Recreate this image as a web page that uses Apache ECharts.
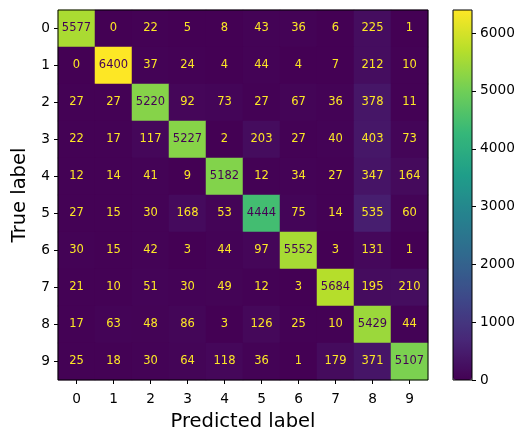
<!DOCTYPE html>
<html>
<head>
<meta charset="utf-8">
<script src="https://cdn.jsdelivr.net/npm/echarts@6/dist/echarts.min.js"></script>
<style>
  html, body { margin: 0; padding: 0; background: #fff; }
  #chart { width: 527px; height: 437px; }
</style>
</head>
<body>
<div id="chart"></div>
<script>
// confusion matrix: rows = true label, cols = predicted label
var labels = ["0", "1", "2", "3", "4", "5", "6", "7", "8", "9"];
var matrix = [
  [5577, 0, 22, 5, 8, 43, 36, 6, 225, 1],
  [0, 6400, 37, 24, 4, 44, 4, 7, 212, 10],
  [27, 27, 5220, 92, 73, 27, 67, 36, 378, 11],
  [22, 17, 117, 5227, 2, 203, 27, 40, 403, 73],
  [12, 14, 41, 9, 5182, 12, 34, 27, 347, 164],
  [27, 15, 30, 168, 53, 4444, 75, 14, 535, 60],
  [30, 15, 42, 3, 44, 97, 5552, 3, 131, 1],
  [21, 10, 51, 30, 49, 12, 3, 5684, 195, 210],
  [17, 63, 48, 86, 3, 126, 25, 10, 5429, 44],
  [25, 18, 30, 64, 118, 36, 1, 179, 371, 5107]
];
var colorbarTicks = [0, 1000, 2000, 3000, 4000, 5000, 6000];

var viridis = ["#440154", "#482878", "#3e4989", "#31688e", "#26828e",
  "#1f9e89", "#35b779", "#6ece58", "#b5de2b", "#fde725"];

var vmin = 0, vmax = 6400;
var thresh = (vmin + vmax) / 2;

var cells = [];
matrix.forEach(function (row, i) {
  row.forEach(function (v, j) {
    cells.push({
      value: [j, i, v],
      label: { color: v > thresh ? viridis[0] : viridis[viridis.length - 1] }
    });
  });
});

var font = "DejaVu Sans";
var chart = echarts.init(document.getElementById("chart"));

chart.setOption({
  animation: false,
  textStyle: { fontFamily: font },
  grid: [
    { left: 58, top: 10, width: 370, height: 370, show: true,
      borderColor: "#000", borderWidth: 1, backgroundColor: "transparent", z: 5 },
    { left: 453, top: 10, width: 19, height: 370, show: true,
      borderColor: "#000", borderWidth: 1, backgroundColor: "transparent", z: 5 }
  ],
  xAxis: [
    {
      type: "category", gridIndex: 0, data: labels,
      name: "Predicted label", nameLocation: "middle", nameGap: 32,
      nameTextStyle: { fontSize: 19.5, color: "#000", fontFamily: font },
      axisLine: { show: false },
      axisTick: { show: true, alignWithLabel: true, length: 4, lineStyle: { color: "#000" } },
      axisLabel: { fontSize: 13.7, color: "#000", margin: 12, fontFamily: font },
      splitLine: { show: false }
    },
    { type: "category", gridIndex: 1, data: [""], show: false }
  ],
  yAxis: [
    {
      type: "category", gridIndex: 0, data: labels, inverse: true,
      name: "True label", nameLocation: "middle", nameGap: 24,
      nameTextStyle: { fontSize: 19.5, color: "#000", fontFamily: font },
      axisLine: { show: false },
      axisTick: { show: true, alignWithLabel: true, length: 4, lineStyle: { color: "#000" } },
      axisLabel: { fontSize: 13.7, color: "#000", margin: 8, fontFamily: font },
      splitLine: { show: false }
    },
    {
      type: "value", gridIndex: 1, position: "right",
      min: vmin, max: vmax, interval: 1000,
      axisLine: { show: false },
      axisTick: { show: true, length: 4, lineStyle: { color: "#000" },
        customValues: colorbarTicks },
      axisLabel: { fontSize: 13.7, color: "#000", margin: 8,
        fontFamily: font, customValues: colorbarTicks,
        formatter: function (v) { return String(v); } },
      splitLine: { show: false }
    }
  ],
  visualMap: {
    type: "continuous",
    min: vmin, max: vmax,
    dimension: 2,
    seriesIndex: 0,
    calculable: false,
    hoverLink: false,
    show: true,
    orient: "vertical",
    left: 453, top: 10,
    itemWidth: 19, itemHeight: 370,
    padding: 0,
    text: null,
    showLabel: false,
    inRange: { color: viridis }
  },
  series: [
    {
      type: "heatmap",
      xAxisIndex: 0, yAxisIndex: 0,
      data: cells,
      label: { show: true, fontSize: 11.5, fontFamily: font,
        formatter: function (p) { return p.value[2]; } },
      itemStyle: { borderWidth: 0 },
      emphasis: { disabled: true }
    }
  ]
});
</script>
</body>
</html>
